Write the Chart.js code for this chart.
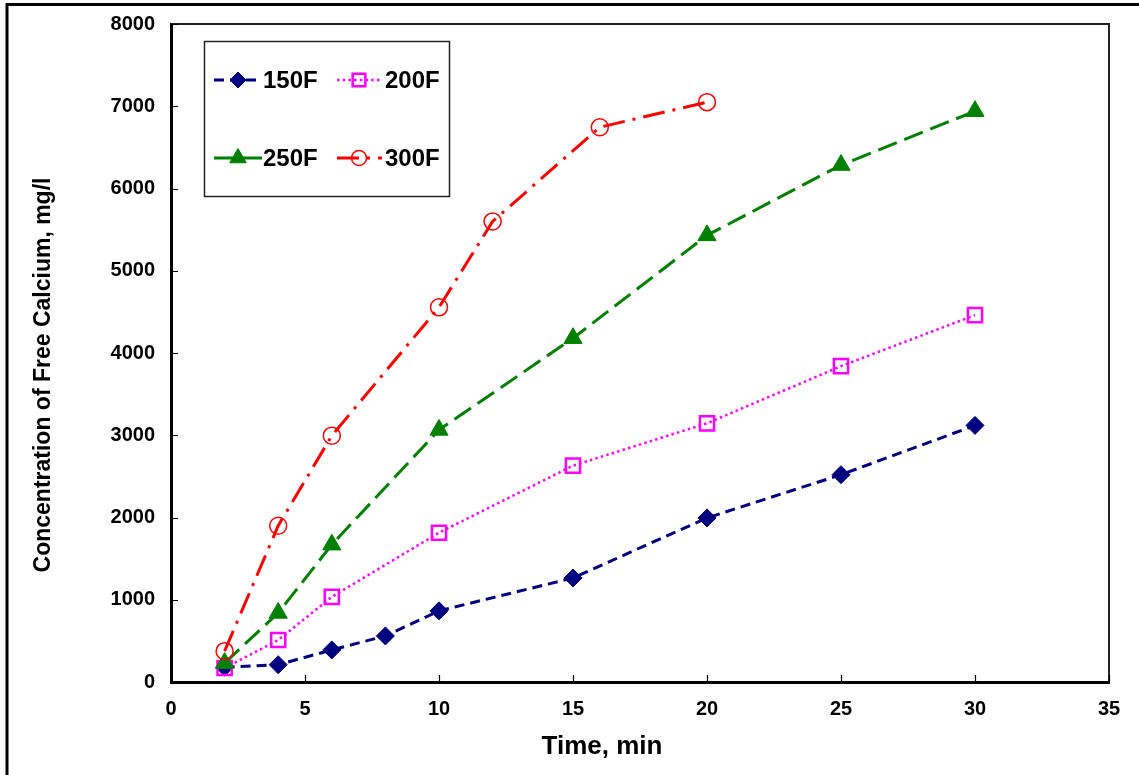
<!DOCTYPE html>
<html>
<head>
<meta charset="utf-8">
<script src="https://cdn.jsdelivr.net/npm/chart.js@4/dist/chart.umd.min.js"></script>
<style>
  body { margin: 0; background: #fff; }
  #wrap { width: 1139px; height: 775px; position: relative; }
</style>
</head>
<body>
<div id="wrap"><canvas id="chart"></canvas></div>
<script>
// Free calcium vs time, one series per temperature
const times150 = [2, 4, 6, 8, 10, 15, 20, 25, 30];
const calcium150 = [180, 210, 390, 560, 865, 1265, 1995, 2520, 3120];

const times200 = [2, 4, 6, 10, 15, 20, 25, 30];
const calcium200 = [170, 510, 1035, 1815, 2630, 3145, 3840, 4460];

const times250 = [2, 4, 6, 10, 15, 20, 25, 30];
const calcium250 = [230, 840, 1670, 3065, 4180, 5430, 6285, 6940];

const times300 = [2, 4, 6, 10, 12, 16, 20];
const calcium300 = [375, 1900, 2995, 4555, 5600, 6745, 7050];

const seriesLabels = ["150F", "200F", "250F", "300F"];

const FONT = "'Liberation Sans', Arial, sans-serif";

function pts(xs, ys) {
  return xs.map((x, i) => ({ x: x, y: ys[i] }));
}

// frame, plot box, inside tick marks, axis titles, boxed legend
const decor = {
  id: "decor",
  beforeDraw(chart) {
    const ctx = chart.ctx;
    ctx.save();
    ctx.fillStyle = "#fff";
    ctx.fillRect(0, 0, chart.width, chart.height);
    ctx.strokeStyle = "#000";
    ctx.lineWidth = 3;
    ctx.strokeRect(7, 4.5, chart.width + 20, chart.height + 20);
    ctx.restore();
  },
  beforeDatasetsDraw(chart) {
    const ctx = chart.ctx;
    const a = chart.chartArea;
    const sx = chart.scales.x;
    const sy = chart.scales.y;
    ctx.save();
    ctx.strokeStyle = "#222";
    ctx.lineWidth = 2;
    ctx.beginPath();
    ctx.moveTo(a.left, a.top);
    ctx.lineTo(a.right, a.top);
    ctx.lineTo(a.right, a.bottom);
    ctx.stroke();

    ctx.strokeStyle = "#000";
    ctx.lineWidth = 1.2;
    ctx.beginPath();
    for (const t of sx.ticks) {
      const px = Math.round(sx.getPixelForValue(t.value)) + 0.5;
      ctx.moveTo(px, a.bottom);
      ctx.lineTo(px, a.bottom - 7);
    }
    for (const t of sy.ticks) {
      const py = Math.round(sy.getPixelForValue(t.value)) + 0.5;
      ctx.moveTo(a.left, py);
      ctx.lineTo(a.left + 7, py);
    }
    ctx.stroke();
    ctx.restore();
  },
  afterDraw(chart) {
    const ctx = chart.ctx;
    ctx.save();
    ctx.fillStyle = "#000";
    ctx.textAlign = "center";
    ctx.textBaseline = "middle";
    ctx.font = "bold 26px " + FONT;
    ctx.fillText("Time, min", 602, 747);
    ctx.font = "bold 23px " + FONT;
    ctx.translate(44, 375);
    ctx.rotate(-Math.PI / 2);
    ctx.fillText("Concentration of Free Calcium, mg/l", 0, 0);
    ctx.restore();

    // legend box
    ctx.save();
    ctx.strokeStyle = "#222";
    ctx.lineWidth = 1.5;
    ctx.strokeRect(204.5, 41.5, 245, 155);
    const slots = [
      { x1: 214, x2: 262, mx: 238, tx: 263, y: 80 },
      { x1: 337, x2: 382, mx: 359, tx: 385, y: 80 },
      { x1: 214, x2: 262, mx: 238, tx: 263, y: 158 },
      { x1: 337, x2: 382, mx: 359, tx: 385, y: 158 }
    ];
    chart.data.datasets.forEach((ds, i) => {
      const s = slots[i];
      ctx.strokeStyle = ds.borderColor;
      ctx.lineWidth = ds.borderWidth;
      ctx.setLineDash(ds.borderDash || []);
      ctx.beginPath();
      ctx.moveTo(s.x1, s.y);
      ctx.lineTo(s.x2, s.y);
      ctx.stroke();
      ctx.setLineDash([]);
      ctx.fillStyle = ds.pointBackgroundColor;
      ctx.strokeStyle = ds.pointBorderColor;
      ctx.lineWidth = ds.pointBorderWidth;
      Chart.helpers.drawPoint(ctx, {
        pointStyle: ds.pointStyle,
        radius: ds.pointRadius - 1,
        rotation: 0,
        borderWidth: ds.pointBorderWidth
      }, s.mx, s.y);
      ctx.fillStyle = "#000";
      ctx.font = "bold 24px " + FONT;
      ctx.textAlign = "left";
      ctx.textBaseline = "middle";
      ctx.fillText(ds.label, s.tx, s.y + 1);
    });
    ctx.restore();
  }
};

new Chart(document.getElementById("chart").getContext("2d"), {
  type: "line",
  data: {
    datasets: [
      {
        label: seriesLabels[0],
        data: pts(times150, calcium150),
        borderColor: "#000080",
        borderWidth: 3,
        borderDash: [10, 6],
        pointStyle: "rectRot",
        pointRadius: 9,
        pointBackgroundColor: "#000080",
        pointBorderColor: "#000080",
        pointBorderWidth: 1,
        order: 4
      },
      {
        label: seriesLabels[1],
        data: pts(times200, calcium200),
        borderColor: "#ff00ff",
        borderWidth: 2.5,
        borderDash: [2.5, 3.2],
        pointStyle: "rect",
        pointRadius: 10,
        pointBackgroundColor: "rgba(0,0,0,0)",
        pointBorderColor: "#ff00ff",
        pointBorderWidth: 2.5,
        order: 3
      },
      {
        label: seriesLabels[2],
        data: pts(times250, calcium250),
        borderColor: "#008000",
        borderWidth: 3,
        borderDash: [20, 8],
        pointStyle: "triangle",
        pointRadius: 10.5,
        pointBackgroundColor: "#008000",
        pointBorderColor: "#008000",
        pointBorderWidth: 1,
        order: 2
      },
      {
        label: seriesLabels[3],
        data: pts(times300, calcium300),
        borderColor: "#ff0000",
        borderWidth: 3,
        borderDash: [22, 8, 3, 8],
        pointStyle: "circle",
        pointRadius: 8.5,
        pointBackgroundColor: "rgba(0,0,0,0)",
        pointBorderColor: "#ff0000",
        pointBorderWidth: 1.5,
        order: 1
      }
    ]
  },
  options: {
    responsive: true,
    maintainAspectRatio: false,
    animation: false,
    layout: { padding: { left: 0, top: 24, right: 30, bottom: 0 } },
    plugins: {
      legend: { display: false },
      title: { display: false },
      tooltip: { enabled: false }
    },
    scales: {
      x: {
        type: "linear",
        min: 0,
        max: 35,
        grid: { display: false, drawTicks: false },
        border: { display: true, color: "#000", width: 3 },
        ticks: {
          stepSize: 5,
          color: "#000",
          padding: 15,
          maxRotation: 0,
          font: { family: FONT, size: 20, weight: "bold" }
        },
        afterFit(scale) { scale.height = 93; }
      },
      y: {
        type: "linear",
        min: 0,
        max: 8000,
        grid: { display: false, drawTicks: false },
        border: { display: true, color: "#000", width: 3 },
        ticks: {
          stepSize: 1000,
          color: "#000",
          padding: 16,
          font: { family: FONT, size: 20, weight: "bold" },
          callback: (v) => String(v)
        },
        afterFit(scale) {
          // keep the plot box edges where the layout padding puts them
          scale.width = 171;
          scale.paddingTop = 0;
          scale.paddingBottom = 0;
        }
      }
    }
  },
  plugins: [decor]
});
</script>
</body>
</html>
